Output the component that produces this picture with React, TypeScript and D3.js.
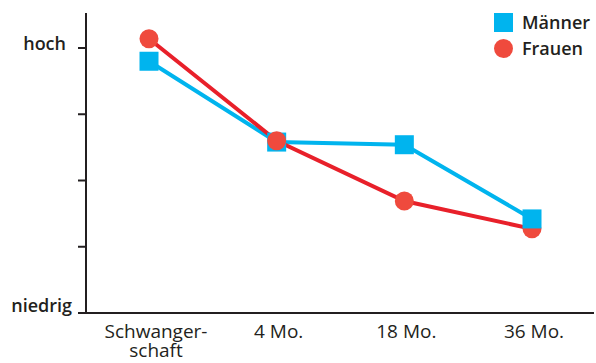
import React from "react";
import * as d3 from "d3";

// Zeitpunkte der Erhebung
const categories = ["Schwangerschaft", "4 Mo.", "18 Mo.", "36 Mo."];
const categoryLines = [["Schwanger-", "schaft"], ["4 Mo."], ["18 Mo."], ["36 Mo."]];
// Werte auf einer Skala von 0 (niedrig) bis 4 (hoch)
const maenner = [3.8, 2.58, 2.54, 1.42];
const frauen = [4.14, 2.6, 1.69, 1.27];
const yTicks = [0, 1, 2, 3, 4];
const yTickLabels: Record<number, string> = { 0: "niedrig", 4: "hoch" };
const seriesNames = ["Männer", "Frauen"];

const W = 596;
const H = 363;
const BLUE = "#00b4ee";
const RED_LINE = "#e8202a";
const RED_DOT = "#ef4a3d";
const TEXT = "#231f20";
const FONT = "'Open Sans', 'Noto Sans', sans-serif";

export default function App() {
  const axisX = 86;
  const axisTop = 13;
  const axisBottom = 313;
  const x = d3.scalePoint<string>().domain(categories).range([149, 532]);
  const y = d3.scaleLinear().domain([0, 4]).range([313, 48]);

  const line = d3
    .line<number>()
    .x((_, i) => x(categories[i]) as number)
    .y((d) => y(d));

  const sq = 19;
  const r = 9.5;

  // Markierungen je Zeitpunkt: der höhere Wert liegt oben
  const markers: React.ReactNode[] = [];
  categories.forEach((c, i) => {
    const cx = x(c) as number;
    const items = [
      { v: maenner[i], kind: "m" },
      { v: frauen[i], kind: "f" },
    ].sort((a, b) => a.v - b.v);
    items.forEach((it) => {
      if (it.kind === "m") {
        markers.push(
          <rect key={`m${i}`} x={cx - sq / 2} y={y(it.v) - sq / 2} width={sq} height={sq} fill={BLUE} />
        );
      } else {
        markers.push(<circle key={`f${i}`} cx={cx} cy={y(it.v)} r={r} fill={RED_DOT} />);
      }
    });
  });

  return (
    <svg
      width={W}
      height={H}
      style={{ position: "absolute", left: 0, top: 0, background: "#fff" }}
      fontFamily={FONT}
    >
      {/* Achsen */}
      <line x1={axisX} x2={axisX} y1={axisTop} y2={axisBottom + 1} stroke={TEXT} strokeWidth={2} />
      <line x1={axisX} x2={594} y1={axisBottom} y2={axisBottom} stroke={TEXT} strokeWidth={2} />
      {yTicks.map((t) => (
        <g key={t}>
          <line x1={78} x2={axisX} y1={y(t)} y2={y(t)} stroke={TEXT} strokeWidth={2} />
          {yTickLabels[t] && (
            <text
              x={t === 0 ? 72 : 66}
              y={t === 0 ? y(t) - 1 : y(t) + 2}
              textAnchor="end"
              fontSize={18}
              fontWeight={600}
              fill={TEXT}
            >
              {yTickLabels[t]}
            </text>
          )}
        </g>
      ))}
      {categories.map((c, i) =>
        categoryLines[i].map((ln, j) => (
          <text
            key={`${c}-${j}`}
            x={(x(c) as number) + (i === 0 ? 7 : 2)}
            y={338 + j * 19}
            textAnchor="middle"
            fontSize={19}
            fill={TEXT}
          >
            {ln}
          </text>
        ))
      )}

      {/* Linien */}
      <path d={line(maenner) || ""} fill="none" stroke={BLUE} strokeWidth={4} />
      <path d={line(frauen) || ""} fill="none" stroke={RED_LINE} strokeWidth={4} />
      {markers}

      {/* Legende */}
      <rect x={494} y={13} width={19} height={19} fill={BLUE} />
      <circle cx={503.5} cy={48.5} r={9.5} fill={RED_DOT} />
      <text x={522} y={28.5} fontSize={18} fontWeight={600} fill={TEXT}>
        {seriesNames[0]}
      </text>
      <text x={522} y={55} fontSize={18} fontWeight={600} fill={TEXT}>
        {seriesNames[1]}
      </text>
    </svg>
  );
}
